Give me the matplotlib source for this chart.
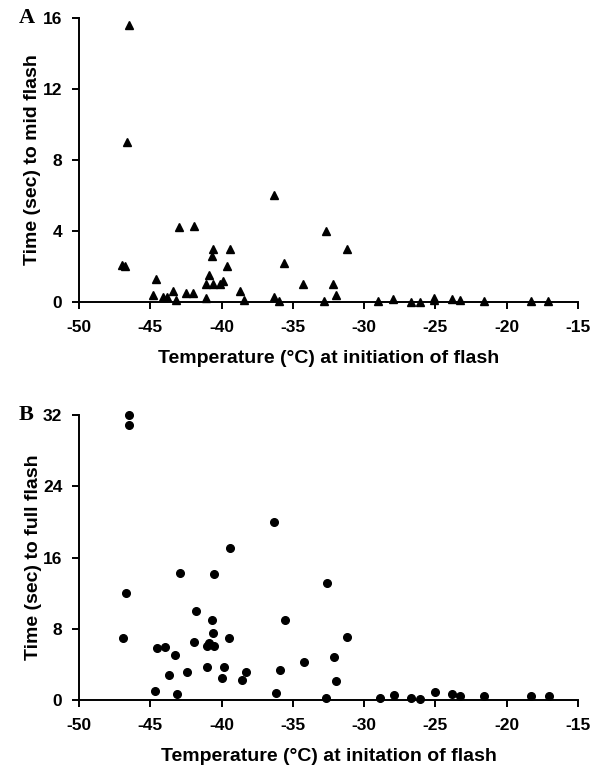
import matplotlib
matplotlib.use("Agg")
import matplotlib.pyplot as plt

# Panel A: time to mid flash (triangles)
temp_mid = [-46.5, -46.6, -47.0, -46.8, -44.8, -44.6, -44.1, -43.8, -43.4, -43.2,
            -43.0, -42.5, -42.0, -41.9, -41.1, -41.1, -40.9, -40.6, -40.7, -40.6,
            -40.1, -39.9, -39.6, -39.4, -38.7, -38.4, -36.3, -36.3, -36.0, -35.6,
            -34.3, -32.8, -32.7, -32.2, -32.0, -31.2, -29.0, -28.0, -26.7, -26.1,
            -25.1, -25.1, -23.8, -23.3, -21.6, -18.3, -17.1]
time_mid = [15.6, 9.0, 2.1, 2.0, 0.4, 1.3, 0.3, 0.3, 0.6, 0.1,
            4.2, 0.5, 0.5, 4.3, 0.2, 1.0, 1.5, 1.0, 2.6, 3.0,
            1.0, 1.2, 2.0, 3.0, 0.6, 0.1, 6.0, 0.3, 0.05, 2.2,
            1.0, 0.05, 4.0, 1.0, 0.4, 3.0, 0.05, 0.15, 0.0, 0.0,
            0.25, 0.1, 0.15, 0.1, 0.05, 0.05, 0.05]

# Panel B: time to full flash (circles)
temp_full = [-46.5, -46.5, -46.7, -46.9, -44.7, -44.5, -44.0, -43.7, -43.3, -43.1,
             -42.9, -42.4, -41.9, -41.8, -41.05, -41.05, -40.9, -40.6, -40.65, -40.5,
             -40.5, -40.0, -39.8, -39.5, -39.4, -38.6, -38.3, -36.3, -36.2, -35.9,
             -35.55, -34.2, -32.7, -32.6, -32.1, -32.0, -31.2, -28.9, -27.9, -26.7,
             -26.1, -25.0, -23.8, -23.3, -21.6, -18.3, -17.0]
time_full = [32.0, 30.9, 12.0, 7.0, 1.0, 5.8, 6.0, 2.8, 5.0, 0.7,
             14.3, 3.1, 6.5, 10.0, 3.7, 6.1, 6.4, 7.5, 9.0, 14.1,
             6.1, 2.5, 3.7, 7.0, 17.1, 2.3, 3.1, 20.0, 0.8, 3.4,
             9.0, 4.3, 0.25, 13.1, 4.8, 2.1, 7.1, 0.2, 0.6, 0.2,
             0.15, 0.9, 0.7, 0.4, 0.4, 0.5, 0.4]

xticks = [-50, -45, -40, -35, -30, -25, -20, -15]

plt.rcParams["axes.unicode_minus"] = False
sans = ["Liberation Sans", "DejaVu Sans"]
serif = ["Liberation Serif", "DejaVu Serif"]

fig = plt.figure(figsize=(5.97, 7.69), dpi=100)
axA = fig.add_axes([0.1323, 0.6073, 0.8358, 0.3693])
axB = fig.add_axes([0.1323, 0.0897, 0.8358, 0.3706])


def style(ax, ymax, ystep, ylabel, xlabel, letter):
    ax.set_xlim(-50, -15)
    ax.set_ylim(0, ymax)
    ax.set_xticks(xticks)
    ax.set_yticks(range(0, ymax + 1, ystep))
    for side in ("top", "right"):
        ax.spines[side].set_visible(False)
    for side in ("left", "bottom"):
        ax.spines[side].set_linewidth(1.4)
    ax.tick_params(direction="out", length=5, width=1.4)
    ax.tick_params(axis="x", pad=8)
    ax.tick_params(axis="y", pad=7)
    for lab in ax.get_xticklabels() + ax.get_yticklabels():
        lab.set_family(sans)
        lab.set_fontweight("bold")
        lab.set_fontsize(12.5)
    ax.set_xlabel(xlabel, family=sans, fontweight="bold", fontsize=14, labelpad=11)
    ax.set_ylabel(ylabel, family=sans, fontweight="bold", fontsize=14, labelpad=1)
    ax.text(-0.12, 1.0, letter, transform=ax.transAxes, family=serif,
            fontweight="bold", fontsize=16, ha="left", va="center")


axA.plot(temp_mid, time_mid, "^", color="black", markersize=5.5, clip_on=False)
style(axA, 16, 4, "Time (sec) to mid flash",
      "Temperature (\u00b0C) at initiation of flash", "A")

axB.plot(temp_full, time_full, "o", color="black", markersize=5.5, clip_on=False)
style(axB, 32, 8, "Time (sec) to full flash",
      "Temperature (\u00b0C) at initation of flash", "B")

plt.savefig("out.png", dpi=100)
